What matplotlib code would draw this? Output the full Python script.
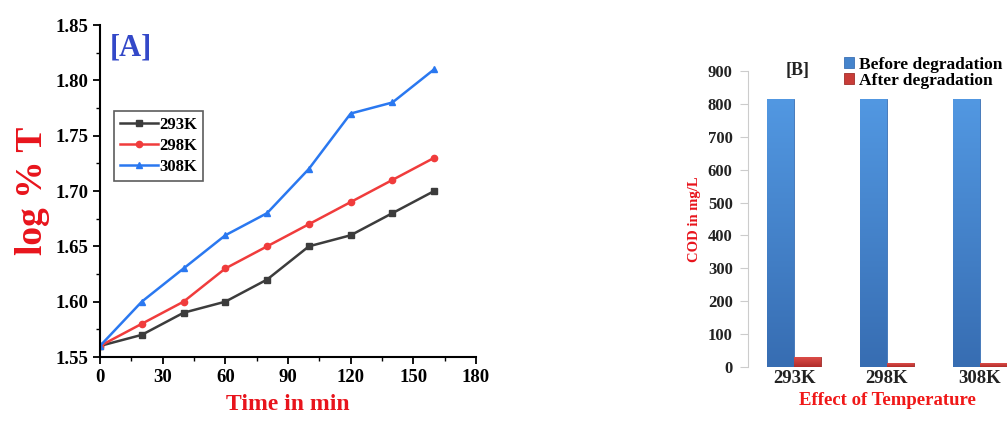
import matplotlib
matplotlib.use("Agg")
import matplotlib.pyplot as plt
import matplotlib.colors as mcolors
import numpy as np

# ---- Data panel A ----
time_min = [0, 20, 40, 60, 80, 100, 120, 140, 160]
logT_293 = [1.56, 1.57, 1.59, 1.60, 1.62, 1.65, 1.66, 1.68, 1.70]
logT_298 = [1.56, 1.58, 1.60, 1.63, 1.65, 1.67, 1.69, 1.71, 1.73]
logT_308 = [1.56, 1.60, 1.63, 1.66, 1.68, 1.72, 1.77, 1.78, 1.81]
series_labels = ["293K", "298K", "308K"]

# ---- Data panel B ----
temps = ["293K", "298K", "308K"]
cod_before = [815, 815, 815]
cod_after = [30, 12, 12]

serif = ["Liberation Serif", "DejaVu Serif"]
plt.rcParams["font.family"] = serif

fig = plt.figure(figsize=(10.07, 4.21), dpi=100)

# ---------------- Panel A ----------------
axA = fig.add_axes([100/1007, 1-357/421, 376/1007, 332/421])
colors = ["#3c3c3c", "#f03c3c", "#2a78f0"]
markers = ["s", "o", "^"]
for ys, c, m, lab in zip([logT_293, logT_298, logT_308], colors, markers, series_labels):
    axA.plot(time_min, ys, color=c, marker=m, markersize=4.5, linewidth=1.8, label=lab)
axA.set_xlim(0, 180)
axA.set_ylim(1.55, 1.85)
axA.set_xticks(np.arange(0, 181, 30))
axA.set_xticks(np.arange(15, 180, 30), minor=True)
axA.set_yticks(np.arange(1.55, 1.851, 0.05))
axA.set_yticks(np.arange(1.575, 1.85, 0.05), minor=True)
axA.yaxis.set_major_formatter(matplotlib.ticker.FormatStrFormatter("%.2f"))
axA.spines["top"].set_visible(False)
axA.spines["right"].set_visible(False)
for s in ["left", "bottom"]:
    axA.spines[s].set_linewidth(1.5)
axA.tick_params(which="major", direction="out", length=5, width=1.3, labelsize=13.5)
axA.tick_params(which="minor", direction="out", length=3, width=1.0)
for t in axA.get_xticklabels() + axA.get_yticklabels():
    t.set_fontweight("bold")
axA.set_xlabel("Time in min", color="#e8141c", fontsize=17, fontweight="bold", labelpad=6)
axA.set_ylabel("log % T", color="#e8141c", fontsize=27, fontweight="bold", labelpad=4)
axA.text(0.025, 0.975, "[A]", transform=axA.transAxes, color="#3348c8", fontsize=22,
         fontweight="bold", va="top", ha="left")
leg = axA.legend(loc="upper left", bbox_to_anchor=(0.037, 0.74),
                 prop={"weight": "bold", "size": 12},
                 frameon=True, fancybox=False, edgecolor="#333333", borderpad=0.35,
                 handlelength=2.3, handletextpad=0.05, labelspacing=0.3,
                 borderaxespad=0)
leg.get_frame().set_linewidth(1.2)

# ---------------- Panel B ----------------
axB = fig.add_axes([748/1007, 1-367/421, 278/1007, 296/421])
x = np.arange(len(temps))
w = 0.29
bars_b = axB.bar(x - w/2, cod_before, width=w, color="#4584cc", edgecolor="#3b70b4",
                 linewidth=0.6, label="Before degradation")
bars_a = axB.bar(x + w/2, cod_after, width=w, color="#c83c38", edgecolor="#a02e2a",
                 linewidth=0.6, label="After degradation")
axB.set_xlim(-0.5, 2.5)
axB.set_ylim(0, 900)

# vertical gradient shading inside each bar
def shade(bars, top, bottom):
    cmap = mcolors.LinearSegmentedColormap.from_list("g", [bottom, top])
    grad = np.linspace(0, 1, 256).reshape(-1, 1)
    for b in bars:
        x0, y0 = b.get_x(), b.get_y()
        im = axB.imshow(grad, cmap=cmap, origin="lower", aspect="auto",
                        extent=(x0, x0 + b.get_width(), y0, y0 + b.get_height()),
                        zorder=b.get_zorder() + 0.1)
        im.set_clip_path(b)

shade(bars_b, "#5298e2", "#376db2")
shade(bars_a, "#dc4c48", "#b02c2a")
axB.set_xlim(-0.5, 2.5)
axB.set_ylim(0, 900)
axB.set_aspect("auto")

axB.set_yticks(np.arange(0, 901, 100))
axB.set_xticks(x)
axB.set_xticklabels(temps)
axB.spines["top"].set_visible(False)
axB.spines["right"].set_visible(False)
axB.spines["bottom"].set_visible(False)
axB.spines["left"].set_color("#cccccc")
axB.tick_params(axis="y", direction="out", length=6, color="#cccccc", labelsize=12, pad=5)
axB.tick_params(axis="x", length=0, labelsize=13.5, pad=2)
for t in axB.get_xticklabels() + axB.get_yticklabels():
    t.set_fontweight("bold")
    t.set_color("#222222")
axB.set_xlabel("Effect of Temperature", color="#f01818", fontsize=13.5, fontweight="bold")
axB.xaxis.set_label_coords(0.5, -0.085)
axB.set_ylabel("COD in mg/L", color="#e8141c", fontsize=10.5, fontweight="bold", labelpad=5)
axB.text(798/1007, 1-71/421, "[B]", transform=fig.transFigure, fontsize=13,
         fontweight="bold", ha="center", va="center", color="#222222")
axB.legend(loc="upper left", bbox_to_anchor=(835/1007, 1-48/421),
           bbox_transform=fig.transFigure, frameon=False,
           prop={"weight": "bold", "size": 12.5}, handlelength=0.6, handleheight=0.6,
           handletextpad=0.3, labelspacing=0.0, borderpad=0)

fig.savefig("out.png", dpi=100)
